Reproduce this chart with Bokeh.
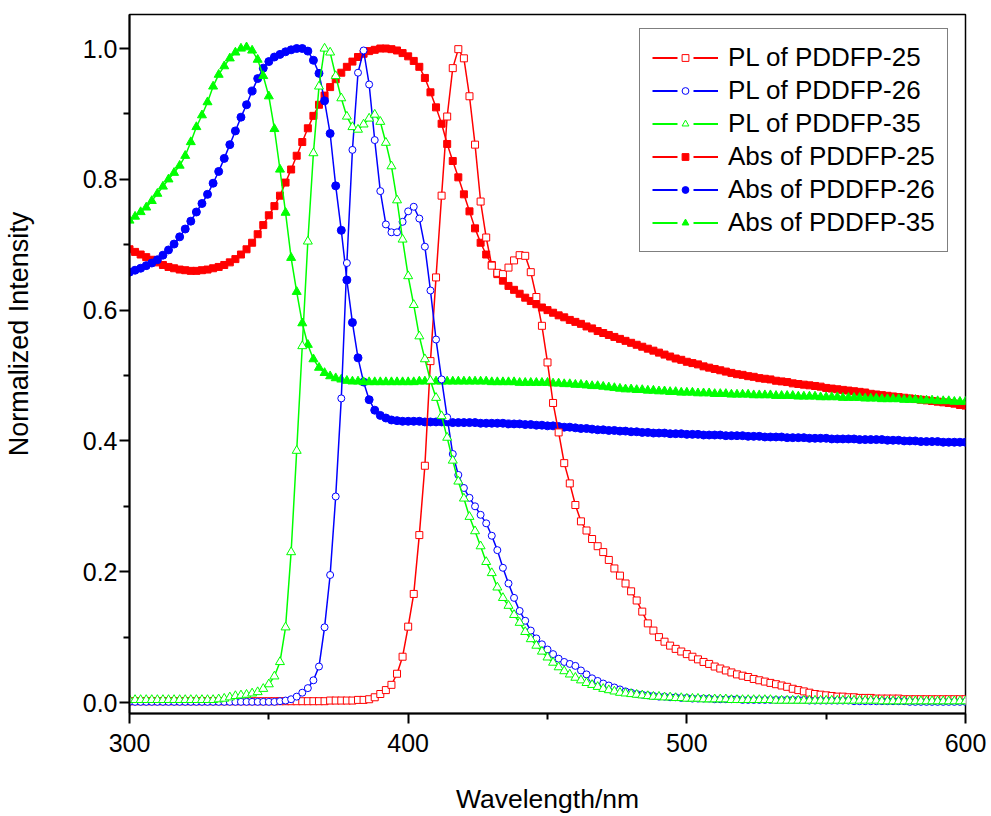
from bokeh.plotting import figure
from bokeh.models import Range1d, FixedTicker, PrintfTickFormatter, Legend, LegendItem
from bokeh.embed import file_html
from bokeh.resources import INLINE

# wavelength grid (nm)
wavelength = list(range(300, 602, 2))

pl_25 = [
    0.002, 0.002, 0.002, 0.002, 0.002, 0.002, 0.002, 0.002, 0.002, 0.002,
    0.002, 0.002, 0.002, 0.002, 0.002, 0.002, 0.002, 0.002, 0.002, 0.002,
    0.002, 0.002, 0.002, 0.002, 0.002, 0.002, 0.002, 0.002, 0.002, 0.002,
    0.002, 0.002, 0.002, 0.002, 0.002, 0.002, 0.003, 0.003, 0.003, 0.003,
    0.003, 0.004, 0.004, 0.005, 0.008, 0.013, 0.019, 0.027, 0.044, 0.070,
    0.116, 0.166, 0.256, 0.362, 0.522, 0.650, 0.775, 0.896, 0.970, 0.999,
    0.985, 0.927, 0.853, 0.766, 0.711, 0.668, 0.657, 0.655, 0.665, 0.676,
    0.684, 0.683, 0.658, 0.620, 0.576, 0.520, 0.458, 0.413, 0.366, 0.335,
    0.302, 0.277, 0.263, 0.250, 0.239, 0.230, 0.218, 0.205, 0.194, 0.182,
    0.170, 0.156, 0.139, 0.121, 0.110, 0.100, 0.093, 0.087, 0.082, 0.078,
    0.074, 0.070, 0.066, 0.062, 0.059, 0.055, 0.052, 0.049, 0.046, 0.043,
    0.041, 0.039, 0.036, 0.034, 0.032, 0.030, 0.028, 0.026, 0.024, 0.021,
    0.019, 0.017, 0.015, 0.013, 0.012, 0.011, 0.010, 0.009, 0.009, 0.008,
    0.008, 0.007, 0.007, 0.007, 0.006, 0.006, 0.006, 0.006, 0.006, 0.005,
    0.005, 0.005, 0.005, 0.005, 0.005, 0.005, 0.005, 0.005, 0.005, 0.005,
    0.005,
]

pl_26 = [
    0.001, 0.001, 0.001, 0.001, 0.001, 0.001, 0.001, 0.001, 0.001, 0.001,
    0.001, 0.001, 0.001, 0.001, 0.001, 0.001, 0.001, 0.001, 0.001, 0.001,
    0.001, 0.001, 0.001, 0.001, 0.001, 0.001, 0.001, 0.002, 0.003, 0.005,
    0.009, 0.015, 0.022, 0.034, 0.055, 0.115, 0.195, 0.315, 0.465, 0.672,
    0.845, 0.963, 0.997, 0.945, 0.860, 0.782, 0.731, 0.719, 0.719, 0.735,
    0.751, 0.758, 0.740, 0.697, 0.630, 0.555, 0.494, 0.436, 0.380, 0.348,
    0.328, 0.313, 0.300, 0.287, 0.274, 0.255, 0.233, 0.206, 0.182, 0.160,
    0.140, 0.125, 0.110, 0.098, 0.089, 0.081, 0.074, 0.067, 0.062, 0.059,
    0.056, 0.049, 0.043, 0.037, 0.033, 0.029, 0.026, 0.023, 0.020, 0.017,
    0.015, 0.013, 0.012, 0.011, 0.010, 0.009, 0.009, 0.008, 0.008, 0.007,
    0.007, 0.006, 0.006, 0.006, 0.006, 0.005, 0.005, 0.005, 0.005, 0.005,
    0.004, 0.004, 0.004, 0.004, 0.004, 0.004, 0.004, 0.004, 0.004, 0.004,
    0.004, 0.004, 0.003, 0.003, 0.003, 0.003, 0.003, 0.003, 0.003, 0.003,
    0.002, 0.002, 0.002, 0.002, 0.002, 0.002, 0.002, 0.002, 0.002, 0.002,
    0.001, 0.001, 0.001, 0.001, 0.001, 0.001, 0.001, 0.001, 0.001, 0.001,
    0.001,
]

pl_35 = [
    0.004, 0.004, 0.004, 0.004, 0.004, 0.004, 0.004, 0.004, 0.004, 0.004,
    0.004, 0.004, 0.004, 0.004, 0.004, 0.004, 0.005, 0.006, 0.008, 0.010,
    0.011, 0.012, 0.014, 0.016, 0.021, 0.028, 0.040, 0.062, 0.115, 0.230,
    0.385, 0.545, 0.705, 0.840, 0.942, 1.000, 0.994, 0.958, 0.924, 0.896,
    0.880, 0.876, 0.884, 0.893, 0.899, 0.888, 0.856, 0.820, 0.768, 0.708,
    0.652, 0.608, 0.560, 0.525, 0.492, 0.466, 0.438, 0.405, 0.370, 0.338,
    0.312, 0.284, 0.262, 0.239, 0.215, 0.198, 0.176, 0.160, 0.148, 0.134,
    0.122, 0.108, 0.097, 0.087, 0.078, 0.069, 0.061, 0.054, 0.048, 0.043,
    0.038, 0.034, 0.030, 0.027, 0.024, 0.021, 0.019, 0.017, 0.015, 0.014,
    0.013, 0.012, 0.011, 0.010, 0.009, 0.009, 0.008, 0.008, 0.007, 0.007,
    0.006, 0.006, 0.006, 0.005, 0.005, 0.005, 0.005, 0.005, 0.004, 0.004,
    0.004, 0.004, 0.004, 0.004, 0.004, 0.004, 0.003, 0.003, 0.003, 0.003,
    0.003, 0.003, 0.003, 0.003, 0.003, 0.003, 0.003, 0.003, 0.003, 0.003,
    0.003, 0.003, 0.003, 0.003, 0.003, 0.002, 0.002, 0.002, 0.002, 0.002,
    0.002, 0.002, 0.002, 0.002, 0.002, 0.002, 0.002, 0.002, 0.002, 0.002,
    0.002,
]

abs_25 = [
    0.693, 0.689, 0.685, 0.681, 0.677, 0.673, 0.669, 0.666, 0.664, 0.662,
    0.661, 0.660, 0.660, 0.661, 0.662, 0.664, 0.666, 0.669, 0.673, 0.678,
    0.685, 0.693, 0.703, 0.716, 0.730, 0.745, 0.759, 0.775, 0.795, 0.815,
    0.836, 0.857, 0.878, 0.897, 0.914, 0.928, 0.941, 0.953, 0.963, 0.972,
    0.980, 0.987, 0.992, 0.996, 0.998, 1.000, 1.000, 0.999, 0.997, 0.993,
    0.988, 0.981, 0.972, 0.955, 0.933, 0.910, 0.885, 0.854, 0.828, 0.803,
    0.777, 0.751, 0.725, 0.703, 0.685, 0.669, 0.655, 0.645, 0.637, 0.631,
    0.625, 0.619, 0.614, 0.609, 0.604, 0.600, 0.596, 0.592, 0.589, 0.585,
    0.582, 0.579, 0.575, 0.572, 0.568, 0.565, 0.562, 0.559, 0.556, 0.553,
    0.550, 0.547, 0.544, 0.541, 0.538, 0.535, 0.532, 0.529, 0.526, 0.524,
    0.521, 0.519, 0.517, 0.514, 0.512, 0.510, 0.508, 0.506, 0.504, 0.502,
    0.501, 0.499, 0.498, 0.496, 0.495, 0.494, 0.492, 0.491, 0.490, 0.488,
    0.487, 0.486, 0.485, 0.484, 0.483, 0.481, 0.480, 0.479, 0.478, 0.477,
    0.476, 0.475, 0.474, 0.472, 0.471, 0.470, 0.469, 0.468, 0.467, 0.466,
    0.465, 0.464, 0.463, 0.462, 0.461, 0.460, 0.459, 0.458, 0.457, 0.455,
    0.454,
]

abs_26 = [
    0.658, 0.661, 0.664, 0.668, 0.672, 0.677, 0.684, 0.692, 0.701, 0.712,
    0.724, 0.736, 0.750, 0.763, 0.777, 0.794, 0.812, 0.832, 0.853, 0.874,
    0.895, 0.914, 0.935, 0.954, 0.970, 0.980, 0.987, 0.991, 0.995, 0.998,
    1.000, 1.000, 0.996, 0.982, 0.962, 0.920, 0.870, 0.790, 0.722, 0.646,
    0.581, 0.527, 0.490, 0.463, 0.447, 0.439, 0.435, 0.432, 0.431, 0.430,
    0.430, 0.430, 0.430, 0.429, 0.429, 0.429, 0.429, 0.429, 0.428, 0.428,
    0.428, 0.428, 0.428, 0.427, 0.427, 0.427, 0.427, 0.427, 0.426, 0.426,
    0.426, 0.425, 0.425, 0.424, 0.424, 0.423, 0.423, 0.422, 0.421, 0.421,
    0.420, 0.419, 0.419, 0.418, 0.417, 0.417, 0.416, 0.416, 0.415, 0.415,
    0.414, 0.414, 0.413, 0.413, 0.412, 0.412, 0.412, 0.411, 0.411, 0.411,
    0.410, 0.410, 0.410, 0.409, 0.409, 0.409, 0.409, 0.408, 0.408, 0.408,
    0.408, 0.407, 0.407, 0.407, 0.406, 0.406, 0.406, 0.406, 0.405, 0.405,
    0.405, 0.405, 0.404, 0.404, 0.404, 0.404, 0.403, 0.403, 0.403, 0.403,
    0.403, 0.402, 0.402, 0.402, 0.402, 0.402, 0.401, 0.401, 0.401, 0.400,
    0.400, 0.400, 0.399, 0.399, 0.399, 0.399, 0.398, 0.398, 0.398, 0.398,
    0.398,
]

abs_35 = [
    0.737, 0.743, 0.750, 0.757, 0.767, 0.778, 0.789, 0.800, 0.810, 0.821,
    0.836, 0.857, 0.880, 0.898, 0.918, 0.942, 0.960, 0.973, 0.985, 0.994,
    1.000, 1.002, 0.997, 0.983, 0.958, 0.927, 0.877, 0.815, 0.749, 0.680,
    0.628, 0.580, 0.547, 0.525, 0.512, 0.504, 0.499, 0.496, 0.494, 0.492,
    0.491, 0.491, 0.490, 0.490, 0.490, 0.490, 0.490, 0.490, 0.490, 0.490,
    0.490, 0.490, 0.491, 0.491, 0.491, 0.491, 0.491, 0.491, 0.491, 0.491,
    0.491, 0.491, 0.491, 0.491, 0.491, 0.490, 0.490, 0.490, 0.490, 0.490,
    0.489, 0.489, 0.489, 0.489, 0.489, 0.489, 0.488, 0.488, 0.487, 0.487,
    0.486, 0.486, 0.485, 0.484, 0.484, 0.483, 0.482, 0.481, 0.480, 0.479,
    0.479, 0.478, 0.478, 0.477, 0.477, 0.476, 0.476, 0.475, 0.475, 0.474,
    0.474, 0.474, 0.473, 0.473, 0.473, 0.472, 0.472, 0.472, 0.471, 0.471,
    0.471, 0.471, 0.470, 0.470, 0.470, 0.470, 0.469, 0.469, 0.469, 0.469,
    0.468, 0.468, 0.468, 0.468, 0.467, 0.467, 0.467, 0.467, 0.466, 0.466,
    0.466, 0.466, 0.465, 0.465, 0.465, 0.464, 0.464, 0.464, 0.464, 0.463,
    0.463, 0.463, 0.462, 0.462, 0.462, 0.461, 0.461, 0.461, 0.460, 0.460,
    0.460,
]

series_labels = ["PL of PDDFP-25", "PL of PDDFP-26", "PL of PDDFP-35",
                 "Abs of PDDFP-25", "Abs of PDDFP-26", "Abs of PDDFP-35"]
x_ticks = [300, 400, 500, 600]
x_minor = [350, 450, 550]
y_ticks = [0.0, 0.2, 0.4, 0.6, 0.8, 1.0]
y_minor = [0.1, 0.3, 0.5, 0.7, 0.9]
x_title = "Wavelength/nm"
y_title = "Normalized Intensity"

FONT = "Liberation Sans"
RED, BLUE, GREEN = "#FF0000", "#0000FF", "#00FF00"

p = figure(width=991, height=816, output_backend="svg", toolbar_location=None,
           x_range=Range1d(300, 600), y_range=Range1d(-0.0168, 1.052),
           min_border_left=128, min_border_right=26, min_border_top=14,
           min_border_bottom=103)
p.background_fill_color = "white"
p.border_fill_color = "white"
p.outline_line_color = "black"
p.outline_line_width = 1.5
p.xgrid.visible = False
p.ygrid.visible = False

for ax in (p.xaxis[0], p.yaxis[0]):
    ax.axis_line_width = 2
    ax.major_tick_line_width = 2
    ax.minor_tick_line_width = 2
    ax.major_tick_in = 0
    ax.major_tick_out = 10
    ax.minor_tick_in = 0
    ax.minor_tick_out = 6
    ax.major_label_text_font = FONT
    ax.major_label_text_font_size = "25px"
    ax.major_label_text_color = "black"
    ax.axis_label_text_font = FONT
    ax.axis_label_text_font_style = "normal"
    ax.axis_label_text_color = "black"

p.xaxis.axis_label_text_font_size = "26.5px"
p.yaxis.axis_label_text_font_size = "27px"
p.xaxis.ticker = FixedTicker(ticks=x_ticks, minor_ticks=x_minor)
p.yaxis.ticker = FixedTicker(ticks=y_ticks, minor_ticks=y_minor)
p.yaxis.formatter = PrintfTickFormatter(format="%.1f")
p.xaxis.axis_label = x_title
# leading no-break spaces lift the visible title above the axis centre,
# where it sits in the original figure
p.yaxis.axis_label = "\u00a0" * 8 + y_title
p.xaxis.major_label_standoff = 10
p.yaxis.major_label_standoff = 2
p.xaxis.axis_label_standoff = 29
p.yaxis.axis_label_standoff = 46

specs = [
    (abs_25, RED, "square", True, 7),
    (abs_26, BLUE, "circle", True, 8),
    (abs_35, GREEN, "triangle", True, 9),
    (pl_25, RED, "square", False, 7),
    (pl_26, BLUE, "circle", False, 7),
    (pl_35, GREEN, "triangle", False, 9),
]
spec_labels = [series_labels[3], series_labels[4], series_labels[5],
               series_labels[0], series_labels[1], series_labels[2]]

items = {}
for (vals, col, mk, filled, sz), lab in zip(specs, spec_labels):
    p.line(wavelength, vals, line_color=col, line_width=1.5)
    sr = p.scatter(wavelength, vals, marker=mk, size=sz,
                   fill_color=col if filled else "white",
                   line_color=col, line_width=1)
    # legend-only sample line ("— symbol —", gaps around the symbol);
    # hidden in the plot, drawn only as the legend swatch
    leg_line = p.line(wavelength, vals, line_color=col, line_width=2,
                      line_dash="25 16", visible=False)
    items[lab] = LegendItem(label=lab, renderers=[leg_line, sr])

legend = Legend(items=[items[l] for l in series_labels],
                location=(510, 461))
legend.label_text_font = FONT
legend.label_text_font_size = "26px"
legend.label_text_color = "black"
legend.glyph_width = 66
legend.glyph_height = 17
legend.label_height = 33
legend.label_standoff = 10
legend.spacing = 0
legend.padding = 12
legend.margin = 0
legend.border_line_color = "black"
legend.border_line_width = 1.5
legend.background_fill_color = "white"
legend.background_fill_alpha = 1.0
legend.inactive_fill_alpha = 0.0
p.add_layout(legend)

open("out.html", "w").write(file_html(p, INLINE))
